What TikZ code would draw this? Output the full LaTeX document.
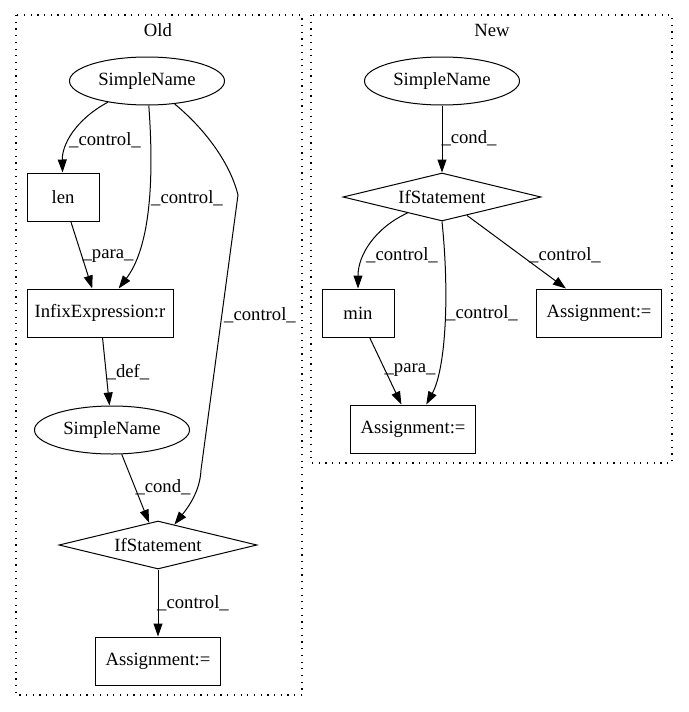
\documentclass[tikz,border=0pt]{standalone}
\usepackage{fontspec}
\setmainfont{Liberation Serif}
\usetikzlibrary{shapes.geometric,arrows.meta}
\begin{document}
\begin{tikzpicture}[x=1pt,y=-1pt,
  every node/.style={font=\fontsize{18.67}{22}\selectfont},
  ell/.style={draw,ellipse,line width=1pt,minimum width=155pt,minimum height=48pt,inner sep=0pt},
  boxn/.style={draw,rectangle,line width=1pt,minimum height=48pt,inner sep=0pt},
  dia/.style={draw,diamond,aspect=4,line width=1pt,minimum width=198pt,minimum height=48pt,inner sep=0pt},
  arr/.style={line width=1pt,-{Triangle[length=13pt,width=9pt]}},
  lbl/.style={inner sep=0pt},
  clus/.style={line width=1.1pt,dash pattern=on 1.2pt off 5.5pt}]
\useasboundingbox (0,0) rectangle (688,712);
% clusters
\draw[clus] (16,15) rectangle (302,695);
\draw[clus] (311,15) rectangle (672,463);
\node[lbl] (oldl) at (158,30) {Old};
\node[lbl] (newl) at (492,30) {New};
% Old nodes
\node[ell] (sn1) at (147,81) {SimpleName};
\node[boxn,minimum width=72pt] (len) at (63,197) {len};
\node[boxn,minimum width=146pt] (infix) at (100,313) {InfixExpression:r};
\node[ell] (sn2) at (112,430) {SimpleName};
\node[dia] (ifo) at (158,545) {IfStatement};
\node[boxn,minimum width=125pt] (asg1) at (158,661) {Assignment:=};
% New nodes
\node[ell] (sn3) at (442,81) {SimpleName};
\node[dia] (if2) at (442,197) {IfStatement};
\node[boxn,minimum width=72pt] (min) at (358,313) {min};
\node[boxn,minimum width=125pt] (asgR) at (599,313) {Assignment:=};
\node[boxn,minimum width=125pt] (asgL) at (413,429) {Assignment:=};
% Old edges
\draw[arr] (sn1) .. controls (75,120) and (62,145) .. (len);
\node[lbl] (l1) at (105,140) {\_control\_};
\draw[arr] (sn1) .. controls (155,190) and (148,250) .. (infix);
\node[lbl] (l2) at (187,198) {\_control\_};
\draw[arr] (len) -- (infix);
\node[lbl] (l3) at (108,256) {\_para\_};
\draw[arr] (sn1) .. controls (212,135) and (232,170) .. (238,195) -- (201,470) .. controls (200,490) and (190,505) .. (ifo);
\node[lbl] (l4) at (260,315) {\_control\_};
\draw[arr] (infix) -- (sn2);
\node[lbl] (l5) at (128,372) {\_def\_};
\draw[arr] (sn2) -- (ifo);
\node[lbl] (l6) at (163,487) {\_cond\_};
\draw[arr] (ifo) -- (asg1);
\node[lbl] (l7) at (193,603) {\_control\_};
% New edges
\draw[arr] (sn3) -- (if2);
\node[lbl] (l8) at (469,138) {\_cond\_};
\draw[arr] (if2) .. controls (375,228) and (358,255) .. (min);
\node[lbl] (l9) at (402,255) {\_control\_};
\draw[arr] (if2.south) .. controls (450,300) and (445,370) .. (asgL);
\node[lbl] (l10) at (482,313) {\_control\_};
\draw[arr] (if2) -- (asgR);
\node[lbl] (l11) at (565,255) {\_control\_};
\draw[arr] (min) -- (asgL);
\node[lbl] (l12) at (410,370) {\_para\_};
\end{tikzpicture}
\end{document}
